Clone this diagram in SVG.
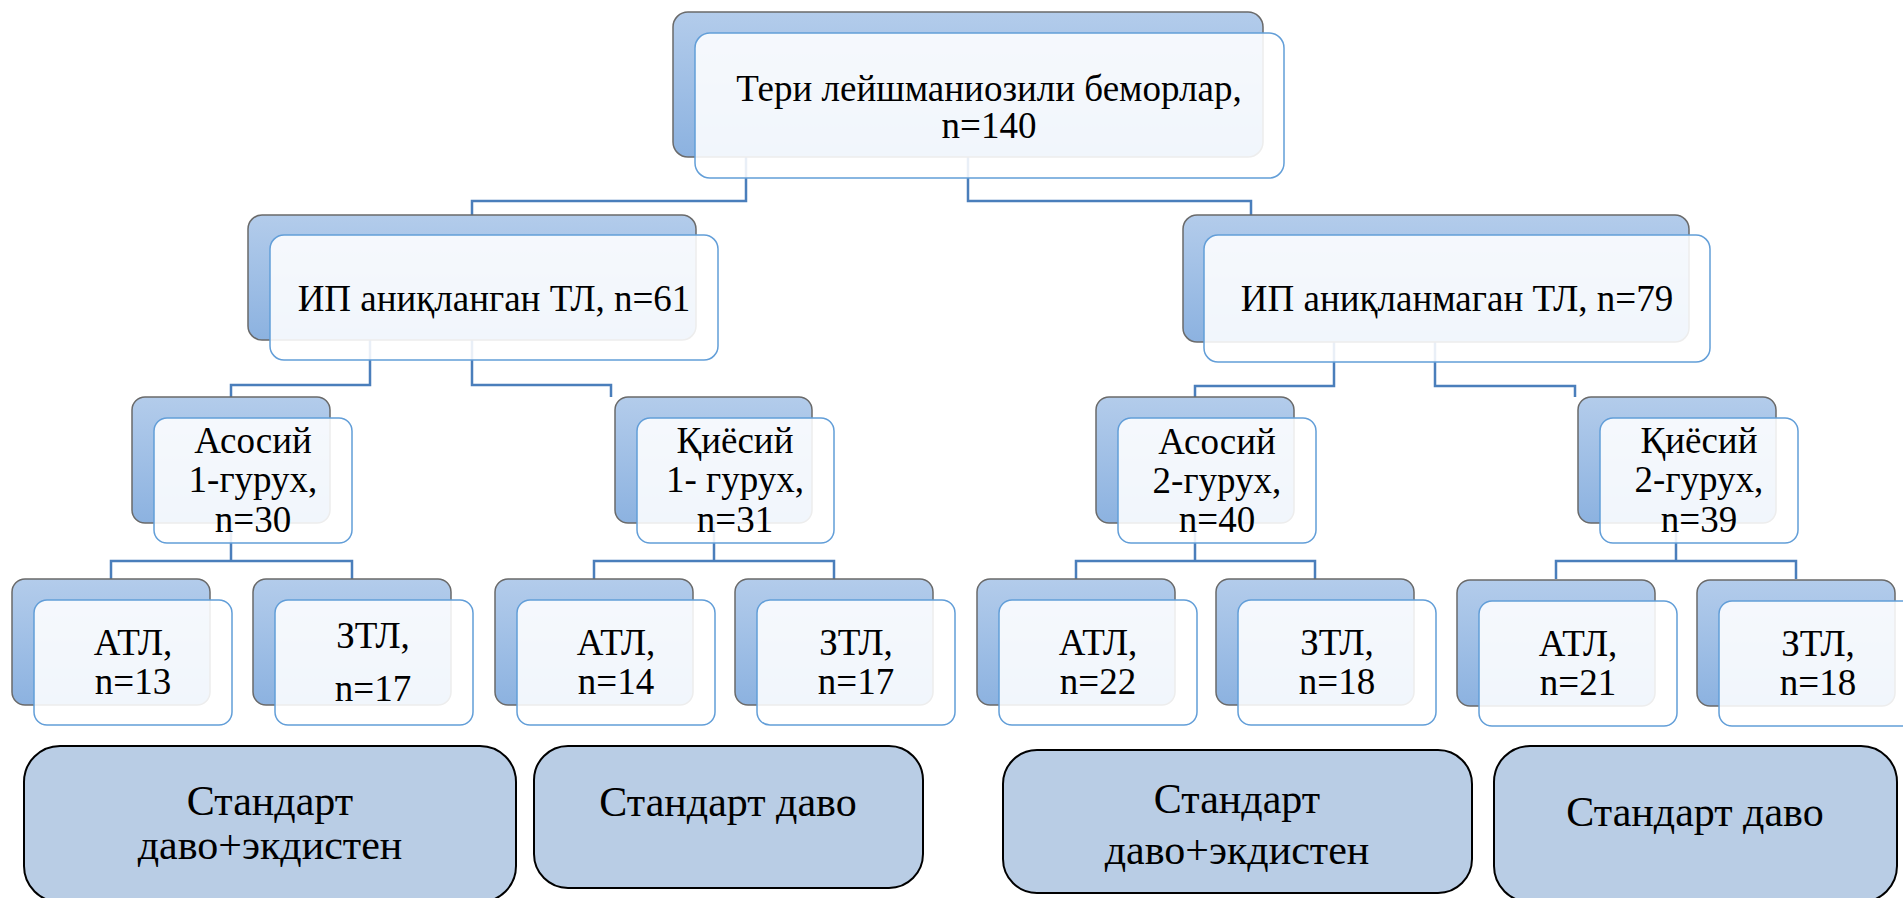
<svg xmlns="http://www.w3.org/2000/svg" width="1903" height="898" viewBox="0 0 1903 898">
<defs>
<linearGradient id="bg" x1="0" y1="0" x2="0" y2="1">
<stop offset="0" stop-color="#b3cceb"/>
<stop offset="1" stop-color="#8cb2e0"/>
</linearGradient>
<style>
.back{fill:url(#bg);stroke:#6a6a6a;stroke-width:1.5}
.front{fill:#ffffff;fill-opacity:0.88;stroke:#629ed8;stroke-width:1.5}
.conn{fill:none;stroke:#4a7ebb;stroke-width:2.5}
.treat{fill:#b9cde5;stroke:#000;stroke-width:2}
.t{font-family:"Liberation Serif","Times New Roman",serif;font-size:37px;fill:#000;text-anchor:middle}
.tb{font-family:"Liberation Serif","Times New Roman",serif;font-size:42px;fill:#000;text-anchor:middle}
</style>
</defs>
<rect width="1903" height="898" fill="#ffffff"/>
<g id="connectors">
<path class="conn" d="M746,157 V201 H472 V215"/>
<path class="conn" d="M968,157 V201 H1251 V215"/>
<path class="conn" d="M370,340 V385 H231 V397"/>
<path class="conn" d="M472,340 V385 H611 V397"/>
<path class="conn" d="M1334,342 V386 H1195 V397"/>
<path class="conn" d="M1435,342 V386 H1575 V397"/>
<path class="conn" d="M231,523 V561 H111 V579 M231,561 H352 V579"/>
<path class="conn" d="M714,523 V561 H594 V579 M714,561 H834 V579"/>
<path class="conn" d="M1195,523 V561 H1076 V579 M1195,561 H1315 V579"/>
<path class="conn" d="M1676,523 V561 H1556 V579 M1676,561 H1796 V579"/>
</g>
<g id="root">
<rect class="back" x="673" y="12" width="590" height="145" rx="15"/>
<rect class="front" x="695" y="33" width="589" height="145" rx="15"/>
<text class="t" x="989" y="101">Тери лейшманиозили беморлар,</text>
<text class="t" x="989" y="138">n=140</text>
</g>
<g id="ip-found">
<rect class="back" x="248" y="215" width="448" height="125" rx="14"/>
<rect class="front" x="270" y="235" width="448" height="125" rx="14"/>
<text class="t" x="494" y="311">ИП аниқланган ТЛ, n=61</text>
</g>
<g id="ip-notfound">
<rect class="back" x="1183" y="215" width="506" height="127" rx="14"/>
<rect class="front" x="1204" y="235" width="506" height="127" rx="14"/>
<text class="t" x="1457" y="311">ИП аниқланмаган ТЛ, n=79</text>
</g>
<g id="main1">
<rect class="back" x="132" y="397" width="198" height="126" rx="13"/>
<rect class="front" x="154" y="418" width="198" height="125" rx="13"/>
<text class="t" x="253" y="453">Асосий</text>
<text class="t" x="253" y="492">1-гурух,</text>
<text class="t" x="253" y="532">n=30</text>
</g>
<g id="comp1">
<rect class="back" x="615" y="397" width="197" height="126" rx="13"/>
<rect class="front" x="637" y="418" width="197" height="125" rx="13"/>
<text class="t" x="735" y="453">Қиёсий</text>
<text class="t" x="735" y="492">1- гурух,</text>
<text class="t" x="735" y="532">n=31</text>
</g>
<g id="main2">
<rect class="back" x="1096" y="397" width="198" height="126" rx="13"/>
<rect class="front" x="1118" y="418" width="198" height="125" rx="13"/>
<text class="t" x="1217" y="454">Асосий</text>
<text class="t" x="1217" y="493">2-гурух,</text>
<text class="t" x="1217" y="532">n=40</text>
</g>
<g id="comp2">
<rect class="back" x="1578" y="397" width="198" height="126" rx="13"/>
<rect class="front" x="1600" y="418" width="198" height="125" rx="13"/>
<text class="t" x="1699" y="453">Қиёсий</text>
<text class="t" x="1699" y="492">2-гурух,</text>
<text class="t" x="1699" y="532">n=39</text>
</g>
<g id="atl13">
<rect class="back" x="12" y="579" width="198" height="126" rx="13"/>
<rect class="front" x="34" y="600" width="198" height="125" rx="13"/>
<text class="t" x="133" y="655">АТЛ,</text>
<text class="t" x="133" y="694">n=13</text>
</g>
<g id="ztl17a">
<rect class="back" x="253" y="579" width="198" height="126" rx="13"/>
<rect class="front" x="275" y="600" width="198" height="125" rx="13"/>
<text class="t" x="373" y="648">ЗТЛ,</text>
<text class="t" x="373" y="701">n=17</text>
</g>
<g id="atl14">
<rect class="back" x="495" y="579" width="198" height="126" rx="13"/>
<rect class="front" x="517" y="600" width="198" height="125" rx="13"/>
<text class="t" x="616" y="655">АТЛ,</text>
<text class="t" x="616" y="694">n=14</text>
</g>
<g id="ztl17b">
<rect class="back" x="735" y="579" width="198" height="126" rx="13"/>
<rect class="front" x="757" y="600" width="198" height="125" rx="13"/>
<text class="t" x="856" y="655">ЗТЛ,</text>
<text class="t" x="856" y="694">n=17</text>
</g>
<g id="atl22">
<rect class="back" x="977" y="579" width="198" height="126" rx="13"/>
<rect class="front" x="999" y="600" width="198" height="125" rx="13"/>
<text class="t" x="1098" y="655">АТЛ,</text>
<text class="t" x="1098" y="694">n=22</text>
</g>
<g id="ztl18a">
<rect class="back" x="1216" y="579" width="198" height="126" rx="13"/>
<rect class="front" x="1238" y="600" width="198" height="125" rx="13"/>
<text class="t" x="1337" y="655">ЗТЛ,</text>
<text class="t" x="1337" y="694">n=18</text>
</g>
<g id="atl21">
<rect class="back" x="1457" y="580" width="198" height="126" rx="13"/>
<rect class="front" x="1479" y="601" width="198" height="125" rx="13"/>
<text class="t" x="1578" y="656">АТЛ,</text>
<text class="t" x="1578" y="695">n=21</text>
</g>
<g id="ztl18b">
<rect class="back" x="1697" y="580" width="198" height="126" rx="13"/>
<rect class="front" x="1719" y="601" width="198" height="125" rx="13"/>
<text class="t" x="1818" y="656">ЗТЛ,</text>
<text class="t" x="1818" y="695">n=18</text>
</g>
<g id="treat1">
<rect class="treat" x="24" y="746" width="492" height="156" rx="36"/>
<text class="tb" x="270" y="815">Стандарт</text>
<text class="tb" x="270" y="859">даво+экдистен</text>
</g>
<g id="treat2">
<rect class="treat" x="534" y="746" width="389" height="142" rx="34"/>
<text class="tb" x="728" y="816">Стандарт даво</text>
</g>
<g id="treat3">
<rect class="treat" x="1003" y="750" width="469" height="143" rx="34"/>
<text class="tb" x="1237" y="813">Стандарт</text>
<text class="tb" x="1237" y="864">даво+экдистен</text>
</g>
<g id="treat4">
<rect class="treat" x="1494" y="746" width="403" height="156" rx="36"/>
<text class="tb" x="1695" y="826">Стандарт даво</text>
</g>
</svg>
